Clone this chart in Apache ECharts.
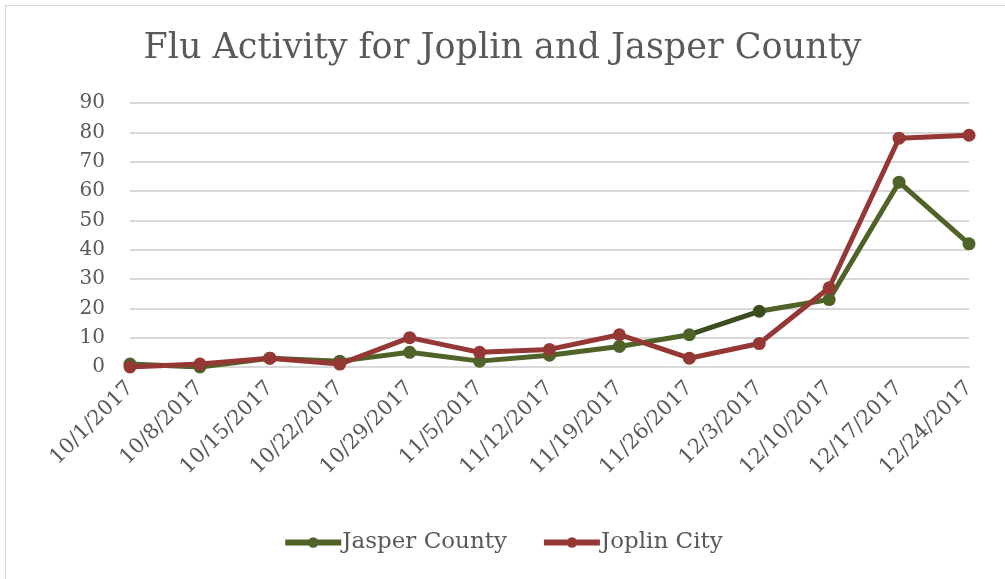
<!DOCTYPE html>
<html><head><meta charset="utf-8">
<script src="https://cdn.jsdelivr.net/npm/echarts@6/dist/echarts.min.js"></script>
<style>
html,body{margin:0;padding:0;background:#fff;}
#frame{position:absolute;left:5px;top:5px;width:1010px;height:590px;border:1px solid #d9d9d9;box-sizing:border-box;}
#c{position:absolute;left:0;top:0;width:1005px;height:579px;}
</style></head>
<body>
<div id="frame"></div>
<div id="c"></div>
<script>
const categories = ['10/1/2017','10/8/2017','10/15/2017','10/22/2017','10/29/2017','11/5/2017','11/12/2017','11/19/2017','11/26/2017','12/3/2017','12/10/2017','12/17/2017','12/24/2017'];
const jasperCounty = [1,0,3,2,5,2,4,7,11,19,23,63,42];
const joplinCity = [0,1,3,1,10,5,6,11,3,8,27,78,79];
const yTicks = [0,10,20,30,40,50,60,70,80,90];

const green = '#4f6228', darkGreen = '#3b4d1e', red = '#953735';
const font = '"DejaVu Serif", "Liberation Serif", serif';
const chart = echarts.init(document.getElementById('c'));
chart.setOption({
  animation:false,
  title:{text:'Flu Activity for Joplin and Jasper County',left:'center',top:26,
    textStyle:{fontFamily:font,fontWeight:'normal',fontSize:35,color:'#595959'}},
  grid:{left:130,right:36,top:103,bottom:212},
  legend:{bottom:20,left:'center',itemWidth:56,itemHeight:13,itemGap:34,
    lineStyle:{width:6},
    textStyle:{fontFamily:font,fontSize:23,color:'#595959',padding:[0,0,0,-4]},
    data:['Jasper County','Joplin City']},
  visualMap:{show:false,type:'piecewise',seriesIndex:0,dimension:0,
    pieces:[{lte:8,color:green},{gt:8,lte:9,color:darkGreen},{gt:9,color:green}]},
  xAxis:{type:'category',data:categories,boundaryGap:false,
    axisLine:{show:true,lineStyle:{color:'#d9d9d9',width:2}},axisTick:{show:false},
    axisLabel:{rotate:45,interval:0,fontFamily:font,fontSize:21,color:'#595959',margin:18}},
  yAxis:{type:'value',min:yTicks[0],max:yTicks[yTicks.length-1],interval:10,
    axisLine:{show:false},axisTick:{show:false},
    axisLabel:{fontFamily:font,fontSize:20,color:'#595959',margin:25},
    splitLine:{lineStyle:{color:'#d9d9d9',width:2}}},
  series:[
    {name:'Jasper County',type:'line',data:jasperCounty,color:green,symbol:'circle',symbolSize:13,
     lineStyle:{width:5},itemStyle:{color:green}},
    {name:'Joplin City',type:'line',data:joplinCity,color:red,symbol:'circle',symbolSize:13,
     lineStyle:{width:5,color:red},itemStyle:{color:red}}
  ]
});
</script>
</body></html>
